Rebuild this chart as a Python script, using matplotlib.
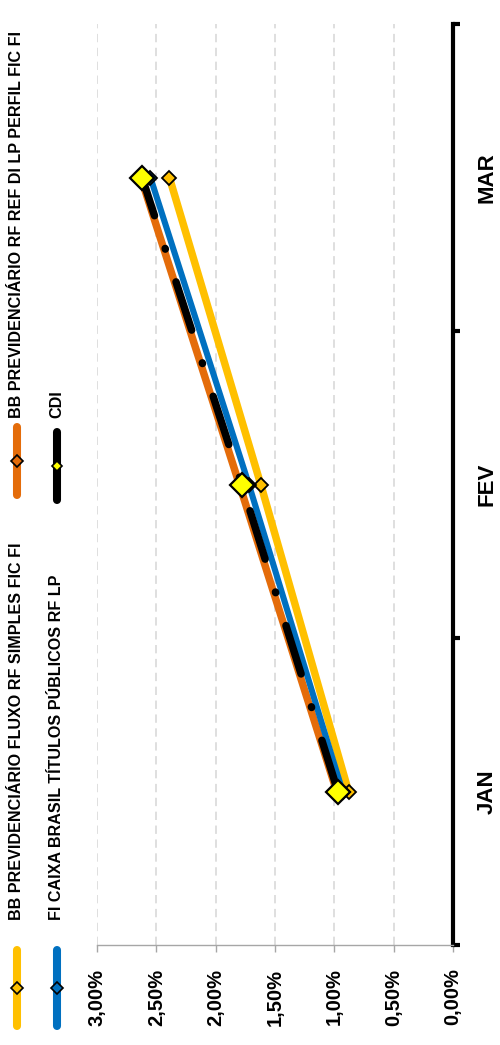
import numpy as np
import matplotlib
matplotlib.use("Agg")
import matplotlib.pyplot as plt

plt.rcParams["font.family"] = ["Liberation Sans", "DejaVu Sans"]
plt.rcParams["font.weight"] = "bold"
plt.rcParams["lines.scale_dashes"] = False

# data (accumulated return, %)
months = ["JAN", "FEV", "MAR"]
fluxo = [0.88, 1.62, 2.39]
perfil = [0.98, 1.80, 2.63]
caixa = [0.93, 1.72, 2.55]
cdi = [0.97, 1.78, 2.62]
value_ticks = [0.0, 0.5, 1.0, 1.5, 2.0, 2.5, 3.0]

names = [
    "BB PREVIDENCIÁRIO FLUXO RF SIMPLES FIC FI",
    "BB PREVIDENCIÁRIO RF REF DI LP PERFIL FIC FI",
    "FI CAIXA BRASIL TÍTULOS PÚBLICOS RF LP",
    "CDI",
]
line_colors = ["#FFC000", "#E46C0A", "#0070C0", "#000000"]
marker_colors = ["#FFC000", "#E46C0A", "#0070C0", "#FFFF00"]

W, H = 500, 1045
fig = plt.figure(figsize=(W / 100, H / 100), dpi=100)
left, right, top, bottom = 97, 453, 24, 945
ax = fig.add_axes([left / W, 1 - bottom / H, (right - left) / W, (bottom - top) / H])

pos = np.arange(len(months))
series = [fluxo, perfil, caixa, cdi]
for i, vals in enumerate(series):
    is_cdi = names[i] == "CDI"
    # long dash - dot pattern for the CDI line
    ax.plot(vals, pos, color=line_colors[i], lw=5.4 if i != 2 else 4.4,
            solid_capstyle="round", dash_capstyle="round",
            linestyle=(84.5, (36.5, 24.8, 0.5, 24.8)) if is_cdi else "-",
            marker="D", ms=12.5 if is_cdi else 7,
            mfc=marker_colors[i], mec="black", mew=1.6 if is_cdi else 1.3,
            zorder=3 + i)

ax.set_xlim(3.0, 0.0)
ax.set_ylim(-0.5, 2.5)

ax.set_xticks(value_ticks)
ax.set_xticklabels([f"{v:.2f}%".replace(".", ",") for v in value_ticks])
ax.tick_params(axis="x", direction="out", length=5, width=1, color="#A6A6A6",
               pad=12, labelrotation=90, labelsize=14.5)
ax.xaxis.grid(True, color="#D9D9D9", linestyle=(0, (6, 4)), linewidth=1.2)
ax.set_axisbelow(True)

for side in ["left", "top"]:
    ax.spines[side].set_visible(False)
ax.spines["bottom"].set_color("#A6A6A6")
ax.spines["bottom"].set_linewidth(1)
ax.spines["right"].set_color("black")
ax.spines["right"].set_linewidth(3)

ax.yaxis.tick_right()
ax.set_yticks([-0.5, 0.5, 1.5, 2.5])
ax.set_yticklabels([])
ax.set_yticks(pos, minor=True)
ax.set_yticklabels(months, minor=True)
ax.tick_params(axis="y", which="major", right=True, left=False, direction="out",
               length=5, width=3, color="black")
ax.tick_params(axis="y", which="minor", right=True, left=False, length=0,
               pad=17, labelsize=16, labelrotation=90)
for lbl in ax.get_yticklabels(minor=True):
    lbl.set_va("center")
    lbl.set_fontweight("bold")
for lbl in ax.get_xticklabels():
    lbl.set_fontweight("bold")

# rotated legend drawn in pixel coordinates
leg = fig.add_axes([0, 0, 1, 1], zorder=10)
leg.set_xlim(0, W)
leg.set_ylim(H, 0)
leg.axis("off")
leg.patch.set_alpha(0)
entries = [(0, 17, 920, 988), (1, 17, 418, 461), (2, 57, 920, 988), (3, 57, 418, 466)]
for i, x, y_text, y_mid in entries:
    half = 38 if y_text > 500 else 34
    leg.plot([x, x], [y_mid - half, y_mid + half], color=line_colors[i], lw=5.8,
             solid_capstyle="round")
    leg.plot([x], [y_mid], marker="D", ms=5 if names[i] == "CDI" else 6.5,
             mfc=marker_colors[i], mec="black", mew=1.2)
    leg.text(x, y_text, names[i], rotation=90, ha="center", va="bottom",
             fontsize=11.6, fontweight="bold")

fig.savefig("out.png", dpi=100)
